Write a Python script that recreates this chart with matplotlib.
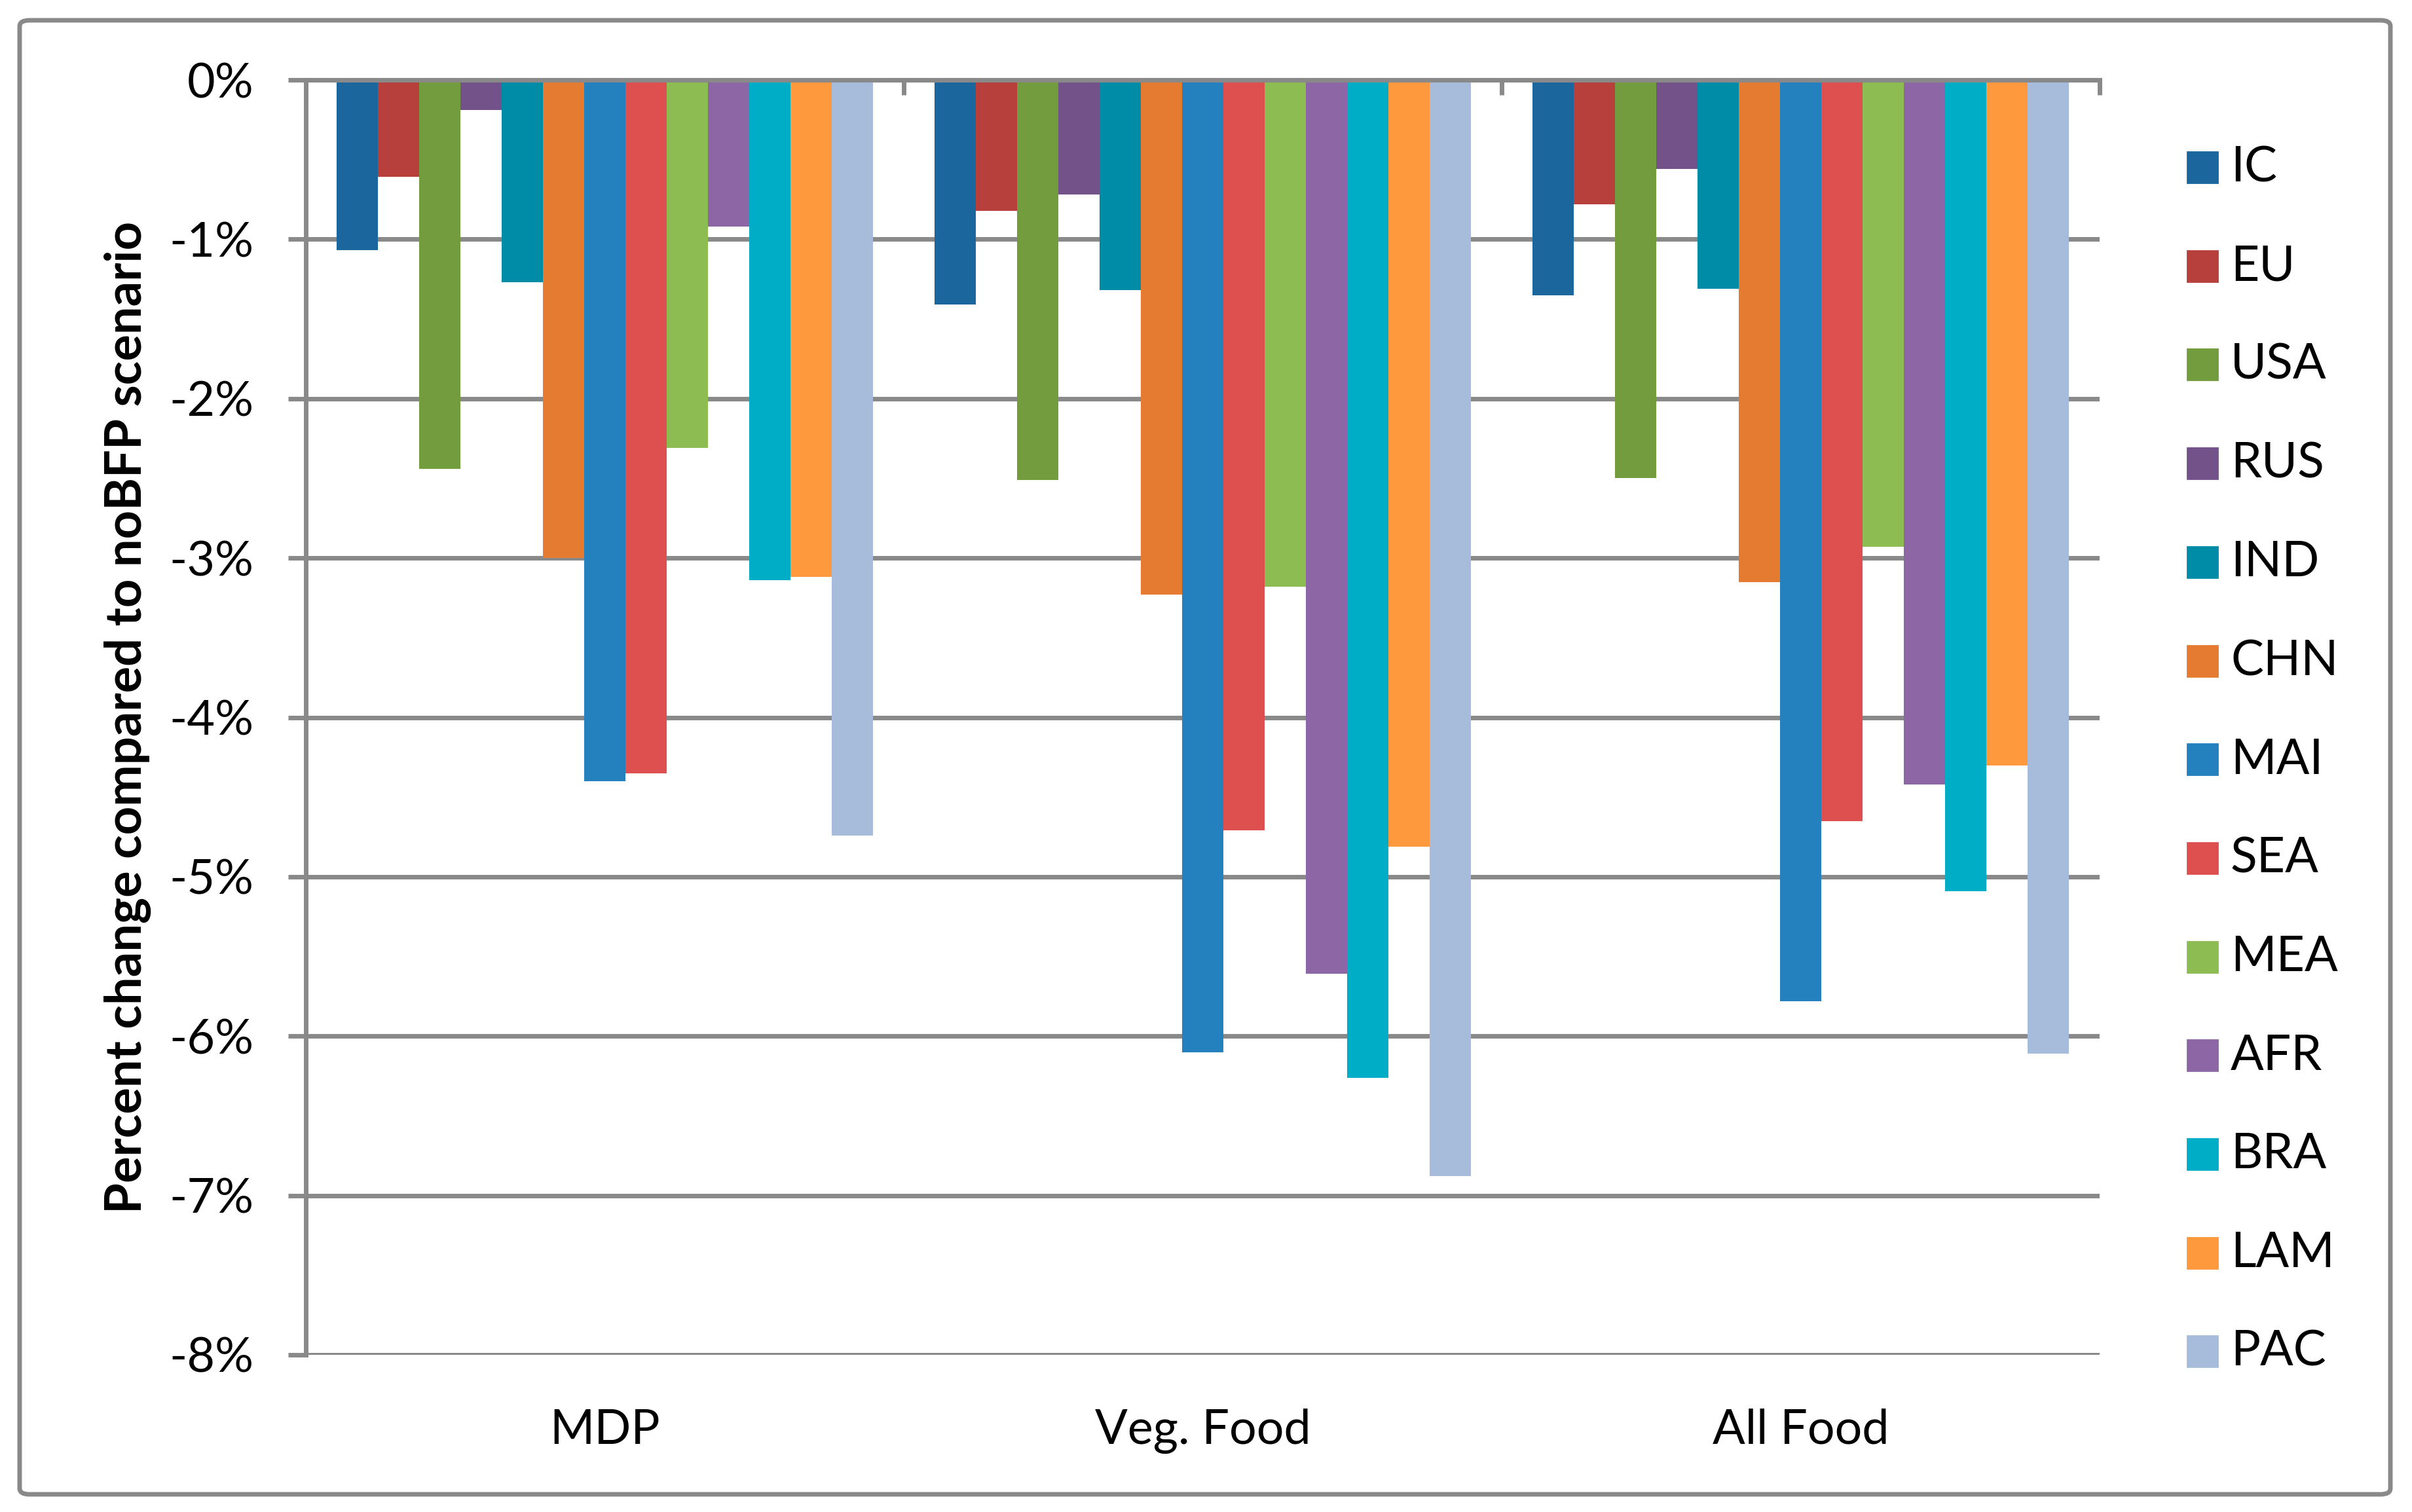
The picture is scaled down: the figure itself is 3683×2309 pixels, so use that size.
import numpy as np
import matplotlib
matplotlib.use('Agg')
from matplotlib import pyplot as plt
from matplotlib.patches import Rectangle, FancyBboxPatch
from matplotlib.ticker import FixedLocator

plt.rcParams['font.family'] = ['Lato', 'DejaVu Sans']

categories = ['MDP', 'Veg. Food', 'All Food']
regions = ['IC', 'EU', 'USA', 'RUS', 'IND', 'CHN', 'MAI', 'SEA', 'MEA', 'AFR', 'BRA', 'LAM', 'PAC']
colors = ['#1B679D', '#B7403D', '#739C3F', '#73528A', '#008CA6', '#E57B30', '#2580BE',
          '#DE5050', '#8DBC52', '#8C66A5', '#00ADC7', '#FF993D', '#A7BCDB']

# percent change per region for MDP, Veg. Food, All Food
IC = [-1.07, -1.41, -1.35]
EU = [-0.61, -0.82, -0.78]
USA = [-2.44, -2.51, -2.50]
RUS = [-0.19, -0.72, -0.56]
IND = [-1.27, -1.32, -1.31]
CHN = [-3.00, -3.23, -3.15]
MAI = [-4.40, -6.10, -5.78]
SEA = [-4.35, -4.71, -4.65]
MEA = [-2.31, -3.18, -2.93]
AFR = [-0.92, -5.61, -4.42]
BRA = [-3.14, -6.26, -5.09]
LAM = [-3.12, -4.81, -4.30]
PAC = [-4.74, -6.88, -6.11]
series = [IC, EU, USA, RUS, IND, CHN, MAI, SEA, MEA, AFR, BRA, LAM, PAC]

yticks = [0, -1, -2, -3, -4, -5, -6, -7, -8]

W, H, DPI = 3683, 2309, 200
fig = plt.figure(figsize=(W / DPI, H / DPI), dpi=DPI)
ax = fig.add_axes([467 / W, 1 - 2069 / H, (3206 - 467) / W, (2069 - 122) / H])

grey = '#898989'
lw = 2.5
n = len(series)
w = 1 / (n + 1.5)
x = np.arange(len(categories))
for j, (vals, c) in enumerate(zip(series, colors)):
    ax.bar(x + (j - (n - 1) / 2) * w, vals, w, color=c, zorder=3)

ax.set_xlim(-0.5, len(categories) - 0.5)
ax.set_ylim(-8, 0)
ax.set_yticks(yticks)
ax.set_yticklabels([f'{t}%' for t in yticks], fontsize=26.5)
ax.yaxis.grid(True, color=grey, linewidth=lw, zorder=0)
ax.set_axisbelow(True)

for s in ['right', 'bottom']:
    ax.spines[s].set_visible(False)
for s in ['left', 'top']:
    ax.spines[s].set_color(grey)
    ax.spines[s].set_linewidth(lw)
ax.spines['top'].set_zorder(4)

ax.tick_params(axis='y', direction='out', length=9.7, width=lw, color=grey, pad=19)
ax.set_xticks(x)
ax.set_xticklabels(categories, fontsize=26.5)
ax.tick_params(axis='x', which='major', length=0, pad=29.5, labelbottom=True, labeltop=False)
ax.xaxis.set_minor_locator(FixedLocator(np.arange(len(categories) + 1) - 0.5))
ax.tick_params(axis='x', which='minor', top=True, bottom=False, direction='in',
               length=8.3, width=lw, color=grey)

ax.set_ylabel('Percent change compared to noBFP scenario', fontsize=27.3, fontweight='bold')
ax.yaxis.label.set_va('center')
ax.yaxis.set_label_coords(-0.0993, 0.5)

# legend
for i, (name, c) in enumerate(zip(regions, colors)):
    yc = 256 + i * 150.7
    fig.patches.append(Rectangle((3340 / W, 1 - (yc + 23) / H), 46 / W, 47 / H,
                                 color=c, transform=fig.transFigure, figure=fig))
    fig.text(3406 / W, 1 - yc / H, name, fontsize=27, va='center', ha='left')

# outer border
fig.patches.append(FancyBboxPatch((30 / W, 27 / H), (3650 - 30) / W, (2282 - 31) / H,
                                  boxstyle='round,pad=0,rounding_size=0.004',
                                  fill=False, edgecolor=grey, linewidth=lw,
                                  transform=fig.transFigure, figure=fig))

fig.savefig('out.png', dpi=DPI, facecolor='white')
